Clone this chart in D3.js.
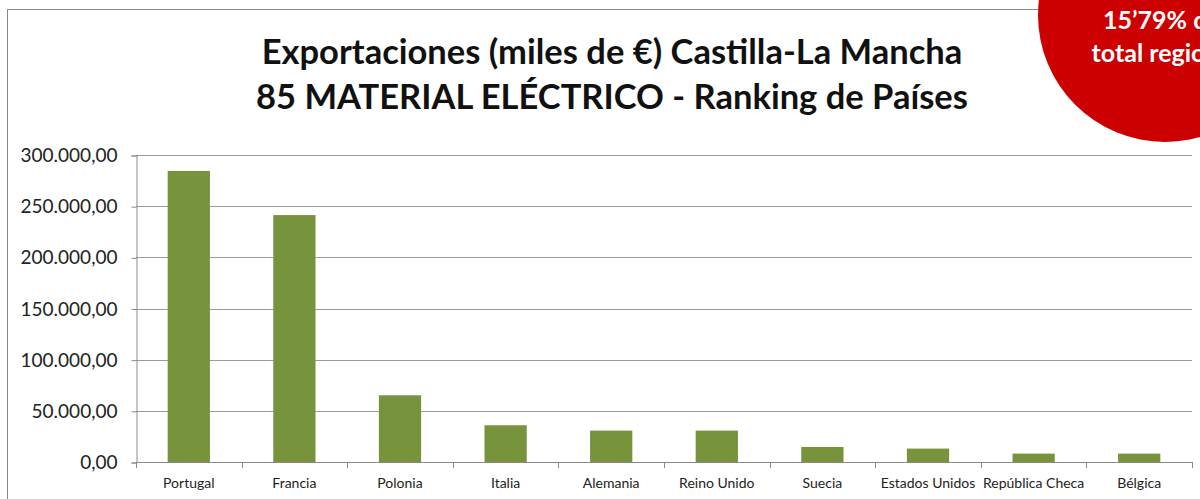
<!DOCTYPE html>
<html>
<head>
<meta charset="utf-8">
<script src="https://cdn.jsdelivr.net/npm/d3@7"></script>
<style>
  html, body { margin: 0; padding: 0; background: #fff; }
  svg { display: block; }
</style>
</head>
<body>
<svg id="chart" width="1200" height="499"></svg>
<script>
const categories = ["Portugal", "Francia", "Polonia", "Italia", "Alemania", "Reino Unido", "Suecia", "Estados Unidos", "República Checa", "Bélgica"];
const values = [284400, 241300, 65200, 35900, 30700, 30700, 14700, 13100, 8200, 8200];
const yTicks = [0, 50000, 100000, 150000, 200000, 250000, 300000];
const titleLines = ["Exportaciones (miles de €) Castilla-La Mancha", "85 MATERIAL ELÉCTRICO - Ranking de Países"];
const badgeLines = ["Supone el", "15’79% del", "total regional"];

const svg = d3.select("#chart");
const font = "Lato, 'Open Sans', sans-serif";

// chart frame
svg.append("rect")
  .attr("x", 7.5).attr("y", 9.5).attr("width", 1230).attr("height", 520)
  .attr("fill", "#fff").attr("stroke", "#8a8a8a").attr("stroke-width", 1);

const plot = { left: 136, right: 1192, top: 155, bottom: 462 };

const x = d3.scaleBand().domain(categories).range([plot.left, plot.right])
  .paddingInner(0.6).paddingOuter(0.3);
const y = d3.scaleLinear().domain([0, 300000]).range([plot.bottom, plot.top]);

const fmt = v => {
  const s = d3.format(",.2f")(v);
  return s.replace(/,/g, "#").replace(".", ",").replace(/#/g, ".");
};

// gridlines
svg.append("g").selectAll("line").data(yTicks.filter(d => d > 0)).join("line")
  .attr("x1", plot.left).attr("x2", plot.right)
  .attr("y1", d => Math.round(y(d)) + 0.5).attr("y2", d => Math.round(y(d)) + 0.5)
  .attr("stroke", "#9a9a9a").attr("stroke-width", 1);

// bars
svg.append("g").selectAll("rect").data(categories).join("rect")
  .attr("x", d => x(d))
  .attr("width", x.bandwidth())
  .attr("y", (d, i) => y(values[i]))
  .attr("height", (d, i) => y(0) - y(values[i]))
  .attr("fill", "#77933C");

// y axis
const yAxis = d3.axisLeft(y).tickValues(yTicks).tickFormat(fmt).tickSize(5).tickPadding(14);
const gy = svg.append("g").attr("transform", `translate(${plot.left + 0.5},0.5)`).call(yAxis);
gy.select(".domain").attr("stroke", "#8a8a8a");
gy.selectAll(".tick line").attr("stroke", "#8a8a8a");
gy.selectAll(".tick text").attr("font-family", font).attr("font-size", 19).attr("fill", "#222");

// x axis (ticks at category boundaries)
svg.append("line")
  .attr("x1", plot.left).attr("x2", plot.right)
  .attr("y1", Math.round(y(0)) + 0.5).attr("y2", Math.round(y(0)) + 0.5)
  .attr("stroke", "#8a8a8a");
const step = x.step();
const boundaries = d3.range(categories.length + 1).map(i => plot.left + i * step);
svg.append("g").selectAll("line").data(boundaries).join("line")
  .attr("x1", d => Math.round(d) + 0.5).attr("x2", d => Math.round(d) + 0.5)
  .attr("y1", Math.round(y(0))).attr("y2", Math.round(y(0)) + 6)
  .attr("stroke", "#8a8a8a");
svg.append("g").selectAll("text").data(categories).join("text")
  .attr("x", d => x(d) + x.bandwidth() / 2)
  .attr("y", 488)
  .attr("text-anchor", "middle")
  .attr("font-family", font).attr("font-size", 14).attr("fill", "#222")
  .text(d => d);

// title
svg.append("g").selectAll("text").data(titleLines).join("text")
  .attr("x", 612).attr("y", (d, i) => 64 + i * 45)
  .attr("text-anchor", "middle")
  .attr("font-family", font).attr("font-weight", "bold").attr("font-size", 34.5).attr("fill", "#111")
  .text(d => d);

// red badge
const badge = { cx: 1165, cy: 15, r: 127 };
svg.append("circle").attr("cx", badge.cx).attr("cy", badge.cy).attr("r", badge.r).attr("fill", "#CC0000");
svg.append("g").selectAll("text").data(badgeLines).join("text")
  .attr("x", badge.cx).attr("y", (d, i) => -5 + i * 33.5)
  .attr("text-anchor", "middle")
  .attr("font-family", font).attr("font-weight", "bold").attr("font-size", 25).attr("fill", "#fff")
  .text(d => d);
</script>
</body>
</html>
